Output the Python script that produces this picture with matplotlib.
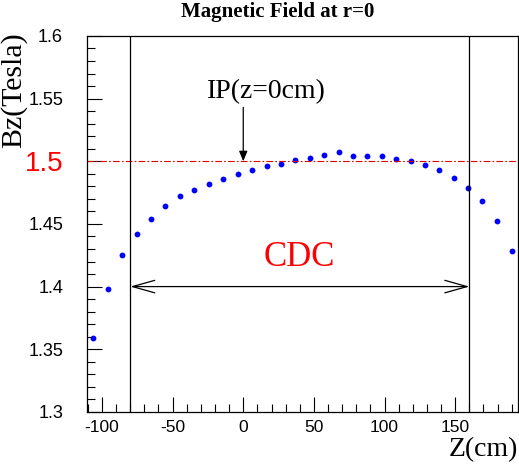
import matplotlib
matplotlib.use('Agg')
import matplotlib.pyplot as plt
from matplotlib.ticker import MultipleLocator

# field map along the axis
z_cm = [-106.4, -95.8, -85.6, -75.4, -65.3, -55.2, -44.8, -34.7, -24.3, -14.2,
        -3.8, 6.4, 16.6, 26.7, 36.8, 47.0, 57.3, 67.5, 77.6, 87.8,
        98.2, 108.1, 118.5, 128.6, 138.7, 148.9, 159.2, 169.1, 179.8, 190.0]
bz = [1.359, 1.398, 1.425, 1.442, 1.454, 1.464, 1.472, 1.477, 1.482, 1.486,
      1.490, 1.493, 1.496, 1.498, 1.501, 1.503, 1.505, 1.507, 1.504, 1.504,
      1.504, 1.502, 1.500, 1.497, 1.493, 1.487, 1.479, 1.468, 1.452, 1.428]

cdc_ends = [-80, 160]
bz_ref = 1.5
yticks = [1.3, 1.35, 1.4, 1.45, 1.5, 1.55, 1.6]
xticks = [-100, -50, 0, 50, 100, 150]

serif = 'Liberation Serif'
sans = 'Liberation Sans'

fig = plt.figure(figsize=(5.19, 4.67), dpi=100)
ax = fig.add_axes([0.167, 0.118, 0.831, 0.805])

ax.plot(z_cm, bz, 'o', color='#0000ff', markersize=4.2, markeredgewidth=0)
ax.axhline(bz_ref, color='#dd0000', lw=0.8, linestyle=(0, (6, 2, 1.5, 2)))
for zc in cdc_ends:
    ax.axvline(zc, color='black', lw=0.9)

# CDC span arrow
ax.annotate('', xy=(cdc_ends[0], 1.4), xytext=(cdc_ends[1], 1.4),
            arrowprops=dict(arrowstyle='<->,head_length=1.6,head_width=0.45',
                            lw=0.9, color='black', shrinkA=0, shrinkB=0))
ax.text(40, 1.423, 'CDC', color='#ff0000', fontsize=25, family=serif,
        ha='center', va='center')

# IP marker
ax.annotate('', xy=(0, bz_ref), xytext=(0, 1.543),
            arrowprops=dict(arrowstyle='-|>,head_length=0.6,head_width=0.25',
                            lw=0.9, color='black', shrinkA=0, shrinkB=0))
ax.text(16.5, 1.5555, 'IP(z=0cm)', fontsize=20, family=serif,
        ha='center', va='center')

ax.set_xlim(-110.8, 194.4)
ax.set_ylim(1.3, 1.6)
ax.set_xticks(xticks)
ax.set_yticks(yticks)
ax.xaxis.set_minor_locator(MultipleLocator(10))
ax.yaxis.set_minor_locator(MultipleLocator(0.01))
ax.tick_params(which='both', direction='in', top=False, right=False, width=0.8)
ax.tick_params(which='major', length=10.5)
ax.tick_params(which='minor', length=5.5)
ax.tick_params(axis='x', pad=6)
ax.tick_params(axis='y', pad=17)
ax.set_xticklabels(['-100', '-50', '0', '50', '100', '150'], family=sans, fontsize=12.5)
ylabels = ax.set_yticklabels(['1.3', '1.35', '1.4', '1.45', '1.5', '1.55', '1.6'],
                             family=sans, fontsize=13)
ylabels[4].set_color('#ff0000')
ylabels[4].set_fontsize(20)
for s in ax.spines.values():
    s.set_linewidth(0.9)

fig.text(278 / 519, 1 - 12 / 467, 'Magnetic Field at r=0', family=serif,
         fontweight='bold', fontsize=15, ha='center', va='center')
fig.text(13.5 / 519, 1 - 90.5 / 467, 'Bz(Tesla)', family=serif, fontsize=21.5,
         rotation=90, ha='center', va='center')
fig.text(518 / 519, 1 - 456 / 467, 'Z(cm)', family=serif, fontsize=20,
         ha='right', va='baseline')

fig.savefig('out.png', dpi=100)
